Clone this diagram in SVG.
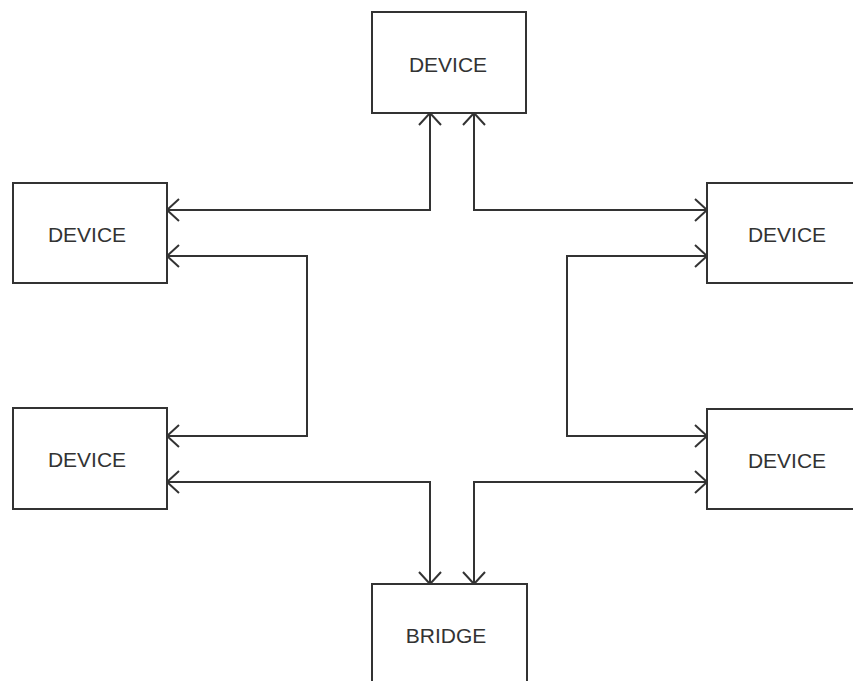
<svg xmlns="http://www.w3.org/2000/svg" width="853" height="681" viewBox="0 0 853 681">
<defs>
<style>
.box{fill:#fff;stroke:#333;stroke-width:2}
.lbl{font-family:"Liberation Sans",Arial,sans-serif;font-size:21px;fill:#333;text-anchor:middle}
.wire{fill:none;stroke:#333;stroke-width:2}
</style>
<marker id="ah" markerUnits="userSpaceOnUse" markerWidth="30" markerHeight="30" viewBox="-15 -15 30 30" refX="0" refY="0" orient="auto-start-reverse">
<path d="M-12,-11 L0,0 L-12,11" fill="none" stroke="#333" stroke-width="2"/>
</marker>
</defs>
<rect width="853" height="681" fill="#fff"/>
<g id="connectors">
<path class="wire" d="M430,113 V210 H167" marker-start="url(#ah)" marker-end="url(#ah)"/>
<path class="wire" d="M474,113 V210 H707" marker-start="url(#ah)" marker-end="url(#ah)"/>
<path class="wire" d="M167,256 H307 V436 H167" marker-start="url(#ah)" marker-end="url(#ah)"/>
<path class="wire" d="M707,256 H567 V436 H707" marker-start="url(#ah)" marker-end="url(#ah)"/>
<path class="wire" d="M167,482 H430 V584" marker-start="url(#ah)" marker-end="url(#ah)"/>
<path class="wire" d="M707,482 H474 V584" marker-start="url(#ah)" marker-end="url(#ah)"/>
</g>
<g id="device-top">
<rect class="box" x="372" y="12" width="154" height="101"/>
<text class="lbl" x="448" y="72">DEVICE</text>
</g>
<g id="device-left-top">
<rect class="box" x="13" y="183" width="154" height="100"/>
<text class="lbl" x="87" y="242">DEVICE</text>
</g>
<g id="device-left-bottom">
<rect class="box" x="13" y="408" width="154" height="101"/>
<text class="lbl" x="87" y="467">DEVICE</text>
</g>
<g id="device-right-top">
<rect class="box" x="707" y="183" width="170" height="100"/>
<text class="lbl" x="787" y="242">DEVICE</text>
</g>
<g id="device-right-bottom">
<rect class="box" x="707" y="409" width="170" height="100"/>
<text class="lbl" x="787" y="468">DEVICE</text>
</g>
<g id="bridge">
<rect class="box" x="372" y="584" width="155" height="120"/>
<text class="lbl" x="446" y="643">BRIDGE</text>
</g>
</svg>
